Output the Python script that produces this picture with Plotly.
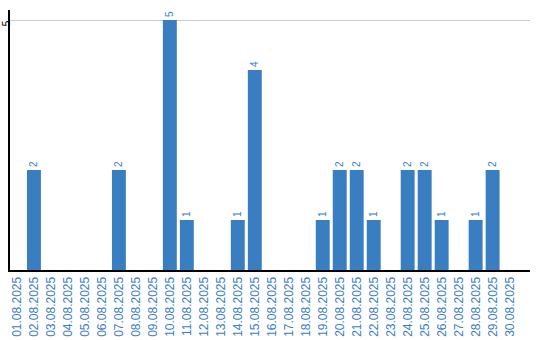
import plotly.graph_objects as go

dates = [f"{d:02d}.08.2025" for d in range(1, 31)]
values = [0, 2, 0, 0, 0, 0, 2, 0, 0, 5, 1, 0, 0, 1, 4, 0, 0, 0, 1, 2, 2, 1, 0, 2, 2, 1, 0, 1, 2, 0]
y_ticks = [5]

labels = [str(v) if v > 0 else "" for v in values]

fig = go.Figure(go.Bar(
    x=dates, y=values, text=labels, textposition="outside", textangle=-90,
    textfont=dict(color="#3a7ec2", size=10, family="Liberation Sans, Arial"),
    marker=dict(color="#3a7ec2", line=dict(width=0)),
    cliponaxis=False,
))
fig.update_layout(
    width=540, height=340, margin=dict(l=10, r=10, t=10, b=70, autoexpand=False),
    plot_bgcolor="white", paper_bgcolor="white", bargap=0.18, showlegend=False,
    font=dict(family="Liberation Sans, Arial"),
)
fig.update_xaxes(type="category", range=[-0.41, 30.2], tickangle=-90, automargin=False,
                 tickfont=dict(color="#3a7ec2", size=12), showline=True, linecolor="black",
                 linewidth=2, showgrid=False, ticks="", ticklen=0)
fig.update_yaxes(range=[0, 5.2], tickvals=y_ticks, tickangle=-90, tickfont=dict(color="black", size=10),
                 showline=True, linecolor="black", linewidth=2, showgrid=True, gridcolor="#cccccc",
                 zeroline=False, ticks="", automargin=False, ticklabelstandoff=-6, ticklabelshift=5)
fig.write_html("out.html")
